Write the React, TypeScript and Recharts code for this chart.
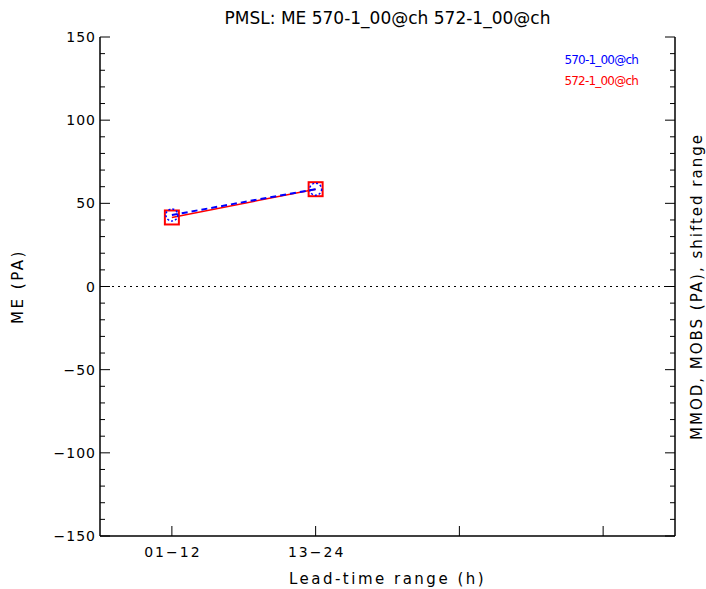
import { LineChart, Line, XAxis, YAxis, ReferenceLine } from "recharts";

const leadTimes = [1, 2];
const xTicks = [1, 2, 3, 4];
const xTickLabels = ["01\u221212", "13\u221224", "", ""];
const me570 = [43, 58.5];
const me572 = [41.5, 58.5];
const yTicks = [
  -150, -140, -130, -120, -110, -100, -90, -80, -70, -60, -50, -40, -30, -20, -10, 0,
  10, 20, 30, 40, 50, 60, 70, 80, 90, 100, 110, 120, 130, 140, 150,
];
const seriesNames = ["570-1_00@ch", "572-1_00@ch"];
const seriesColors = ["#0000ff", "#ff0000"];

const data = leadTimes.map((t, i) => ({ t, a: me570[i], b: me572[i] }));

const FONT = "'DejaVu Sans', sans-serif";
const axisLabelStyle = { textAnchor: "middle", letterSpacing: 2.5 } as any;

const fmt = (v: number) => (v < 0 ? "\u2212" + Math.abs(v) : String(v));

// ticks point inward, labels outside
const LeftTick = ({ x, y, payload }: any) => {
  const major = payload.value % 50 === 0;
  return (
    <g>
      <line x1={x} y1={y} x2={x + (major ? 10 : 5)} y2={y} stroke="#000" />
      {major && (
        <text x={x - 4} y={y + 5} textAnchor="end" fontSize={14} letterSpacing={1} fontFamily={FONT} fill="#000">
          {fmt(payload.value)}
        </text>
      )}
    </g>
  );
};

const RightTick = ({ x, y, payload }: any) => {
  const major = payload.value % 50 === 0;
  return <line x1={x} y1={y} x2={x - (major ? 10 : 5)} y2={y} stroke="#000" />;
};

const BottomTick = ({ x, y, payload }: any) => {
  const label = xTickLabels[xTicks.indexOf(payload.value)] || "";
  return (
    <g>
      <line x1={x} y1={y} x2={x} y2={y - 10} stroke="#000" />
      <text x={x + 1} y={y + 21} textAnchor="middle" fontSize={14} letterSpacing={2} fontFamily={FONT} fill="#000">
        {label}
      </text>
    </g>
  );
};

const TopTick = ({ x, y }: any) => <line x1={x} y1={y} x2={x} y2={y + 10} stroke="#000" />;

const SquareDot = ({ cx, cy }: any) => (
  <rect x={cx - 7} y={cy - 7} width={14} height={14} fill="none" stroke="#ff0000" strokeWidth={2} />
);

const CircleDot = ({ cx, cy }: any) => (
  <circle cx={cx} cy={cy} r={6} fill="none" stroke="#0000ff" strokeWidth={1.5} strokeDasharray="2 2" />
);

export default function App() {
  return (
    <div style={{ position: "absolute", left: 0, top: 0, width: 706, height: 589, background: "#fff" }}>
      <div
        style={{
          position: "absolute",
          left: 100,
          top: 8,
          width: 575,
          textAlign: "center",
          fontFamily: FONT,
          fontSize: 17,
          color: "#000",
        }}
      >
        PMSL: ME 570-1_00@ch 572-1_00@ch
      </div>
      <div
        style={{
          position: "absolute",
          right: 68,
          top: 50,
          fontFamily: FONT,
          fontSize: 12,
          letterSpacing: -0.8,
          lineHeight: "21px",
          textAlign: "right",
          zIndex: 1,
        }}
      >
        {seriesNames.map((n, i) => (
          <div key={n} style={{ color: seriesColors[i] }}>
            {n}
          </div>
        ))}
      </div>
      <LineChart width={706} height={589} data={data} margin={{ top: 37, right: 0, bottom: 0, left: 0 }}>
        <XAxis
          dataKey="t"
          type="number"
          domain={[0.5, 4.5]}
          ticks={xTicks}
          height={53}
          tickSize={0}
          tickMargin={0}
          tick={<BottomTick />}
          axisLine={{ stroke: "#000", strokeWidth: 1.5 }}
          interval={0}
          label={{ value: "Lead-time range (h)", position: "insideBottom", offset: 5, fontSize: 15, fontFamily: FONT, fill: "#000", style: axisLabelStyle }}
        />
        <XAxis
          xAxisId="top"
          orientation="top"
          dataKey="t"
          type="number"
          domain={[0.5, 4.5]}
          ticks={xTicks}
          height={0}
          tickSize={0}
          tickMargin={0}
          tick={<TopTick />}
          axisLine={{ stroke: "#000", strokeWidth: 1.5 }}
          interval={0}
        />
        <YAxis
          type="number"
          domain={[-150, 150]}
          ticks={yTicks}
          width={100}
          tickSize={0}
          tickMargin={0}
          tick={<LeftTick />}
          axisLine={{ stroke: "#000", strokeWidth: 1.5 }}
          interval={0}
          label={{ value: "ME (PA)", angle: -90, position: "insideLeft", offset: 18, fontSize: 15, fontFamily: FONT, fill: "#000", style: axisLabelStyle }}
        />
        <YAxis
          yAxisId="right"
          orientation="right"
          type="number"
          domain={[-150, 150]}
          ticks={yTicks}
          width={31}
          tickSize={0}
          tickMargin={0}
          tick={<RightTick />}
          axisLine={{ stroke: "#000", strokeWidth: 1.5 }}
          interval={0}
          label={{ value: "MMOD, MOBS (PA), shifted range", angle: -90, position: "insideRight", offset: 9, fontSize: 15, fontFamily: FONT, fill: "#000", style: { textAnchor: "middle", letterSpacing: 2 } }}
        />
        <ReferenceLine y={0} stroke="#000" strokeDasharray="2 4" />
        <Line
          xAxisId="top"
          yAxisId="right"
          dataKey="b"
          name={seriesNames[1]}
          stroke={seriesColors[1]}
          strokeWidth={1.5}
          dot={<SquareDot />}
          isAnimationActive={false}
        />
        <Line
          dataKey="a"
          name={seriesNames[0]}
          stroke={seriesColors[0]}
          strokeWidth={2}
          strokeDasharray="6 4"
          dot={<CircleDot />}
          isAnimationActive={false}
        />
      </LineChart>
    </div>
  );
}
